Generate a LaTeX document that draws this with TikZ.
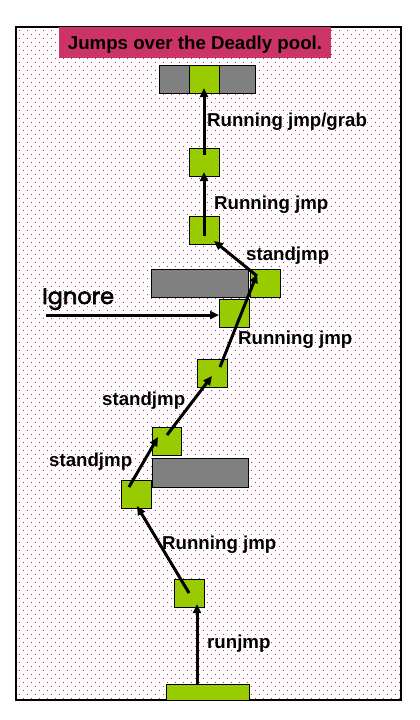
\documentclass[tikz,border=0pt]{standalone}
\usepackage{fontspec}
\setmainfont{Liberation Sans}
\newfontfamily\ignfont[FakeBold=2.5]{Poppins}
\usetikzlibrary{arrows.meta,calc}
\definecolor{dotc}{RGB}{232,16,100}
\definecolor{titlec}{RGB}{204,51,102}
\definecolor{grnc}{RGB}{153,204,0}
\definecolor{grayc}{RGB}{128,128,128}
\begin{document}
\begin{tikzpicture}[x=1pt,y=-1pt,
  blk/.style={draw=black, line width=1pt, inner sep=0pt, outer sep=0pt},
  grnsq/.style={blk, fill=grnc, minimum width=30pt, minimum height=28pt},
  graybar/.style={blk, fill=grayc, minimum width=#1, minimum height=28pt},
  jump/.style={line width=3pt, -{Triangle[length=9pt,width=8pt]}},
  lbl/.style={inner sep=0pt, anchor=base west, font=\fontsize{18.67}{22}\selectfont\bfseries},
  dotrow/.style={draw=dotc, line width=1.2pt, dash pattern=on 1.2pt off 6.8pt},
]
\useasboundingbox (0,0) rectangle (420,720);
\fill[white] (0,0) rectangle (420,720);
% dotted background
\foreach \r in {0,...,83} {
  \path[dotrow] (19,{30.5+8*\r}) -- (400,{30.5+8*\r});
  \path[dotrow] (23,{34.5+8*\r}) -- (400,{34.5+8*\r});
}
% frame
\node[draw=black, line width=1.5pt, inner sep=0pt,
      minimum width=385pt, minimum height=673pt] (frame) at (208.5,363.5) {};
% title
\node[fill=titlec, inner sep=0pt, minimum width=272pt, minimum height=31pt,
      text height=13.4pt, text depth=0pt, font=\fontsize{18.67}{22}\selectfont\bfseries]
      (title) at (195,42.5) {Jumps over the Deadly pool.};
% platforms
\node[graybar=96pt] (g1) at (207,79) {};
\node[grnsq] (s1) at (204,79) {};
\node[grnsq] (s2) at (204,162) {};
\node[grnsq] (s3) at (204,230) {};
\node[graybar=97pt] (g2) at (199.5,283) {};
\node[grnsq] (s4) at (265,283) {};
\node[grnsq] (s5) at (234,313) {};
\node[grnsq] (s6) at (212,373) {};
\node[grnsq, minimum width=29pt] (s7) at (166.5,441) {};
\node[graybar=96pt, minimum height=29pt] (g3) at (200,472.5) {};
\node[grnsq] (s8) at (136,494) {};
\node[grnsq] (s9) at (189,593) {};
\node[blk, fill=grnc, minimum width=83pt, minimum height=16pt] (b) at (207.5,692) {};
% arrows
\draw[jump] ($(s2.center)+(0,-7)$) -- ($(s1.center)+(0,9)$);
\draw[jump] ($(s3.center)+(0,6)$) -- ($(s2.center)+(0,10)$);
\draw[jump] ($(s4.center)+(-8,-7)$) -- ($(s3.center)+(10,11)$);
\draw[jump] ($(s6.center)+(8,-6)$) -- ($(s4.center)+(-8,-9)$);
\draw[jump] ($(s7.center)+(0.5,-6)$) -- ($(s6.center)+(0,3)$);
\draw[jump] ($(s8.center)+(-7,-7)$) -- ($(s7.center)+(-8.5,-4)$);
\draw[jump] (s9.center) -- ($(s8.center)+(1,12)$);
\draw[jump] ($(b.north)+(-10.5,0)$) -- ($(s9.center)+(8,11)$);
\coordinate (ig) at (46,315);
\draw[jump] (ig) -- (ig -| s5.west);
% labels
\node[lbl] (l1) at (207,126) {Running jmp/grab};
\node[lbl] (l2) at (214,209) {Running jmp};
\node[lbl] (l3) at (246,260) {standjmp};
\node[inner sep=0pt, anchor=base west, font=\fontsize{22.5}{26}\ignfont] (l4) at (42,304) {Ignore};
\node[lbl] (l5) at (238,344) {Running jmp};
\node[lbl] (l6) at (102,405.5) {standjmp};
\node[lbl] (l7) at (49,466) {standjmp};
\node[lbl] (l8) at (162,549) {Running jmp};
\node[lbl] (l9) at (207,648) {runjmp};
\end{tikzpicture}
\end{document}
